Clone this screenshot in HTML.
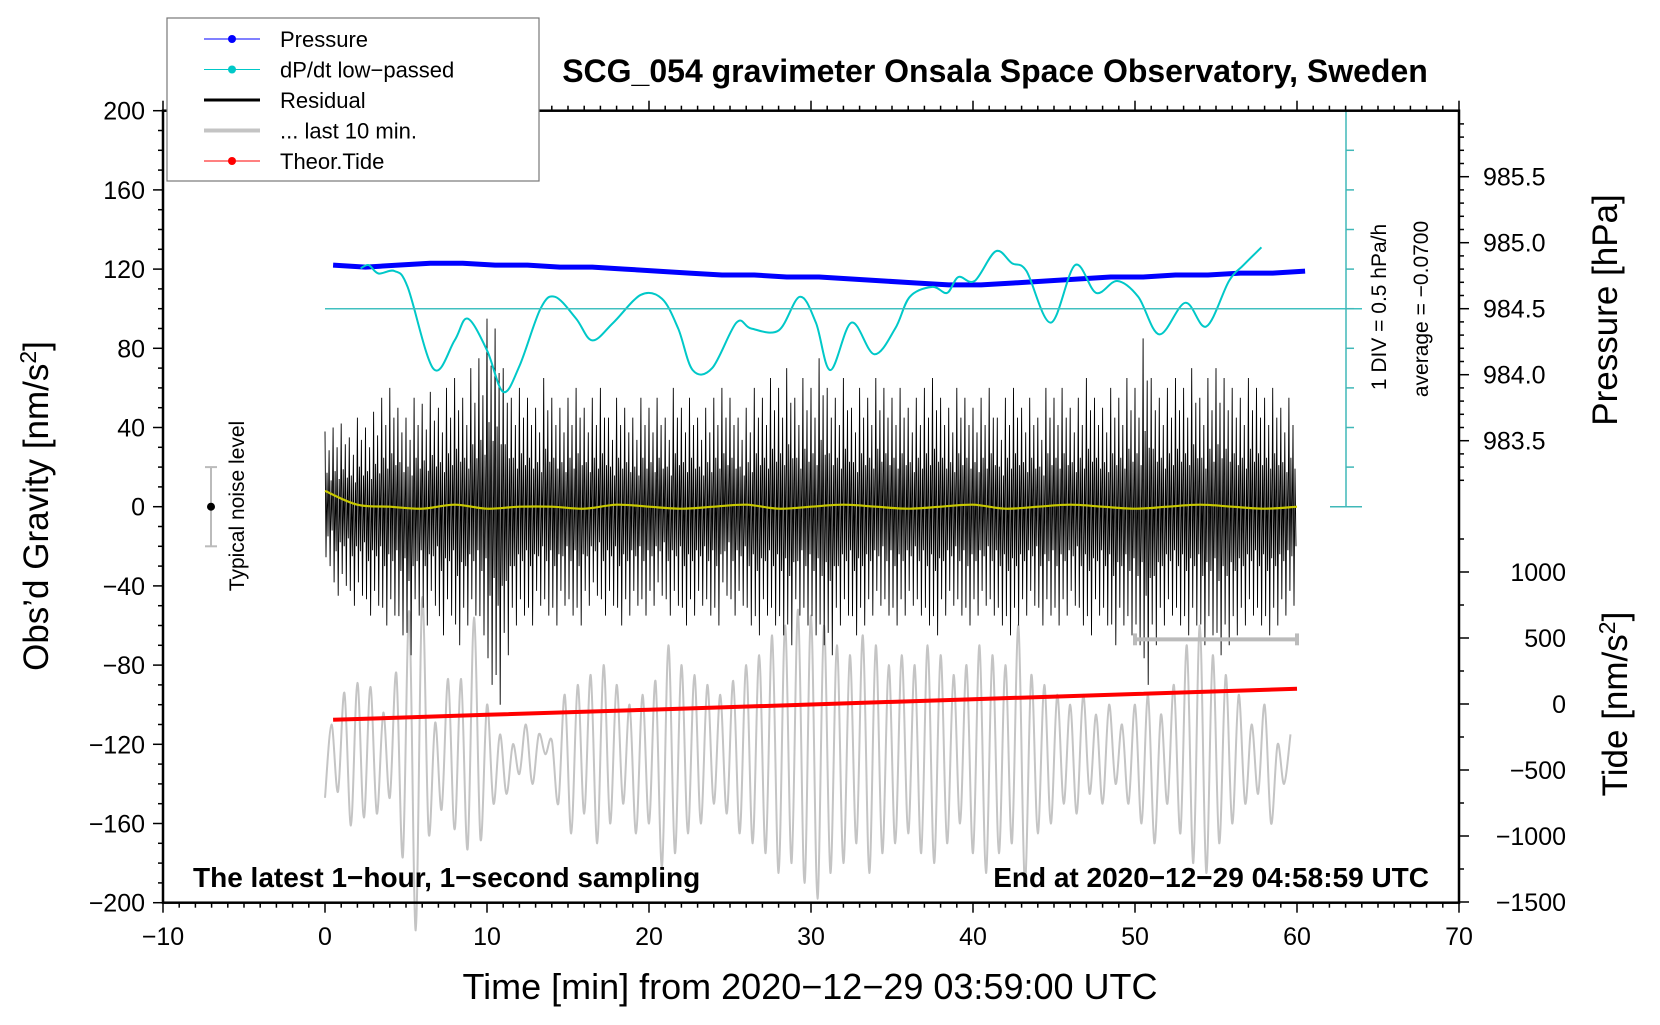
<!DOCTYPE html>
<html><head><meta charset="utf-8"><style>
body{margin:0;background:#fff}
svg text{font-family:"Liberation Sans",Arial,sans-serif}
</style></head><body>
<svg id="c" width="1660" height="1020" viewBox="0 0 1660 1020" xmlns="http://www.w3.org/2000/svg">
<rect width="1660" height="1020" fill="#fff"/>
<g id="plot"></g>
</svg>
<script>
const xTicks=[-10,0,10,20,30,40,50,60,70];
const gTicks=[200,160,120,80,40,0,-40,-80,-120,-160,-200];
const pTicks=[985.5,985.0,984.5,984.0,983.5];
const tTicks=[1000,500,0,-500,-1000,-1500];
const resHi=[38,40,42,35,45,40,48,55,60,50,45,55,52,58,50,60,65,55,70,75,95,90,70,55,60,55,50,65,55,50,55,60,50,55,60,45,55,50,45,55,50,55,45,60,50,55,45,50,55,60,55,45,50,60,55,65,60,70,55,65,60,75,60,55,65,50,60,55,65,60,55,60,50,55,60,65,55,50,60,55,50,55,60,45,55,60,50,55,45,60,55,60,50,55,65,55,50,60,55,65,60,85,65,55,60,65,60,70,55,65,70,65,60,55,65,60,55,60,50,55];
const resLo=[-30,-45,-40,-50,-45,-55,-50,-60,-55,-65,-75,-55,-60,-50,-65,-55,-70,-60,-55,-65,-90,-100,-75,-60,-55,-60,-50,-55,-60,-50,-55,-60,-50,-45,-55,-50,-60,-55,-50,-55,-50,-45,-55,-50,-60,-55,-50,-55,-60,-45,-55,-50,-60,-65,-55,-60,-65,-70,-55,-60,-65,-70,-75,-60,-55,-65,-60,-55,-50,-55,-60,-55,-50,-55,-60,-65,-55,-50,-55,-60,-55,-50,-55,-60,-65,-60,-55,-50,-60,-55,-60,-55,-50,-60,-65,-55,-60,-70,-60,-65,-70,-90,-70,-60,-55,-60,-65,-60,-70,-65,-75,-70,-65,-60,-55,-60,-65,-60,-55,-50];
const grayVals=[-147,-110,-144,-94,-161,-89,-157,-91,-155,-104,-147,-84,-177,-53,-214,-46,-165,-109,-153,-87,-163,-87,-173,-56,-168,
-100,-150,-115,-145,-120,-135,-110,-140,-115,-125,-118,-150,-95,-165,-90,-155,-85,-170,-80,-160,-90,-150,-100,-165,-95,
-160,-88,-182,-70,-175,-80,-165,-85,-160,-90,-150,-95,-155,-88,-165,-80,-170,-75,-175,-65,-185,-60,-180,-52,-190,
-55,-198,-60,-185,-70,-180,-75,-170,-65,-185,-70,-175,-80,-170,-75,-165,-80,-175,-70,-180,-75,-170,-85,-160,-80,
-175,-70,-185,-75,-175,-80,-170,-60,-190,-85,-165,-90,-160,-95,-150,-100,-155,-95,-145,-105,-150,-100,-140,-110,-150,
-100,-160,-95,-170,-105,-150,-90,-165,-70,-180,-60,-185,-75,-170,-85,-160,-95,-150,-110,-145,-100,-160,-120,-140,-115];
const yellowVals=[8,1,0,-1,1,-1,0,0,-1,1,0,-1,0,1,-1,0,1,0,-1,0,1,-1,0,1,0,-1,0,1,0,-1,0];
const pressVals=[984.83,984.815,984.83,984.845,984.845,984.83,984.83,984.815,984.815,984.80,984.785,984.77,984.755,984.755,984.74,984.74,984.725,984.71,984.695,984.68,984.68,984.695,984.71,984.725,984.74,984.74,984.755,984.755,984.77,984.77,984.785];
const dpTimes=[2.2,2.7,3.3,4.3,5.1,6.7,8,8.8,10,11,12,13.3,14.2,15.5,16.5,17.8,19.5,20.8,21.8,22.7,23.9,25.4,26.3,28,29.3,30.3,31.2,32.5,33.9,35.2,36.1,37.5,38.4,39.1,40.1,41.4,42.4,43.3,44.8,46.3,47.6,48.9,50.2,51.5,53.1,54.4,55.8,56.7,57.8];
const dpVals=[0.44,0.48,0.375,0.405,0.205,-0.83,-0.47,-0.195,-0.595,-1.12,-0.795,-0.07,0.08,-0.195,-0.47,-0.245,0.105,0.055,-0.32,-0.845,-0.82,-0.245,-0.32,-0.345,0.08,-0.245,-0.845,-0.245,-0.645,-0.32,0.08,0.205,0.13,0.33,0.28,0.655,0.505,0.405,-0.245,0.48,0.13,0.28,0.08,-0.395,0.005,-0.295,0.28,0.48,0.705];
const dpAvg=-0.07;
const tideTimes=[0.5,10,20,30,40,50,60];
const tideVals=[-120,-82,-43,-4,36,76,115];

const NS="http://www.w3.org/2000/svg";
const G=document.getElementById('plot');
const L=163,R=1459,T=110.7,B=902.7;
const X=t=>L+(t+10)*(R-L)/80;
const GY=g=>506.7-1.98*g;
const PY=p=>308.7-(p-984.5)*132;
const TY=v=>704-v*0.132;
const DY=v=>308.7-(v-dpAvg)/0.5*39.6;
function el(tag,attrs,parent){const e=document.createElementNS(NS,tag);for(const k in attrs)e.setAttribute(k,attrs[k]);(parent||G).appendChild(e);return e;}
function txt(s,attrs){const e=el('text',attrs);e.textContent=s;return e;}
function smooth(pts){let d='M'+pts[0][0].toFixed(1)+','+pts[0][1].toFixed(1);for(let i=0;i<pts.length-1;i++){const p0=pts[i-1]||pts[i],p1=pts[i],p2=pts[i+1],p3=pts[i+2]||p2;const c1x=p1[0]+(p2[0]-p0[0])/6,c1y=p1[1]+(p2[1]-p0[1])/6,c2x=p2[0]-(p3[0]-p1[0])/6,c2y=p2[1]-(p3[1]-p1[1])/6;d+=`C${c1x.toFixed(1)},${c1y.toFixed(1)} ${c2x.toFixed(1)},${c2y.toFixed(1)} ${p2[0].toFixed(1)},${p2[1].toFixed(1)}`;}return d;}

// gray last 10 min
let gp=grayVals.map((v,i)=>[X(i*0.4),GY(v)]);
let e=el('path',{d:smooth(gp),fill:'none',stroke:'#c4c4c4','stroke-width':2});



// residual
let d='';const bw=0.5;
const fh=[1,0.45,0.75,0.35],fl=[0.85,0.5,1,0.4];
resHi.forEach((h,i)=>{const lo=resLo[i];const t0=i*bw;for(let k=0;k<4;k++){const x1=X(t0+k*bw/4),x2=X(t0+(k+0.5)*bw/4);d+=(d?'L':'M')+x1.toFixed(1)+','+GY(h*fh[k]).toFixed(1)+'L'+x2.toFixed(1)+','+GY(lo*fl[k]).toFixed(1);}});
e=el('path',{d:d,fill:'none',stroke:'#000','stroke-width':0.9});



// yellow
e=el('path',{d:smooth(yellowVals.map((v,i)=>[X(i*2),GY(v)])),fill:'none',stroke:'#c8c800','stroke-width':2.2});



// tide
e=el('path',{d:'M'+tideTimes.map((t,i)=>X(t).toFixed(1)+','+TY(tideVals[i]).toFixed(1)).join('L'),fill:'none',stroke:'#ff0000','stroke-width':4});



// pressure
e=el('path',{d:'M'+pressVals.map((p,i)=>X(0.5+2*i).toFixed(1)+','+PY(p).toFixed(1)).join('L'),fill:'none',stroke:'#0000ff','stroke-width':5,'stroke-linejoin':'round'});



// dP/dt
e=el('path',{d:smooth(dpTimes.map((t,i)=>[X(t),DY(dpVals[i])])),fill:'none',stroke:'#00c8c8','stroke-width':2});


e=el('line',{x1:X(0),x2:1362,y1:DY(dpAvg),y2:DY(dpAvg),stroke:'#40c0c0','stroke-width':1.5});


e=el('g',{stroke:'#40b8b8','stroke-width':1.5});


el('line',{x1:1346,x2:1346,y1:T,y2:506.7},e);
el('line',{x1:1330,x2:1362,y1:T,y2:T},e);
el('line',{x1:1330,x2:1362,y1:506.7,y2:506.7},e);
for(let k=1;k<10;k++){el('line',{x1:1346,x2:1354,y1:T+k*39.6,y2:T+k*39.6},e);}
e=txt('1 DIV = 0.5 hPa/h',{x:0,y:0,'font-size':21,'text-anchor':'middle',transform:'translate(1386,307) rotate(-90)'});


e=txt('average = \u22120.0700',{x:0,y:0,'font-size':21,'text-anchor':'middle',transform:'translate(1428,309) rotate(-90)'});



// last 10 min bar
e=el('g',{stroke:'#bbbbbb','stroke-width':4});


el('line',{x1:X(50),x2:X(60),y1:GY(-67),y2:GY(-67)},e);
el('line',{x1:X(50),x2:X(50),y1:GY(-64),y2:GY(-70)},e);
el('line',{x1:X(60),x2:X(60),y1:GY(-64),y2:GY(-70)},e);

// noise level
e=el('g',{stroke:'#bbbbbb','stroke-width':2});


el('line',{x1:211,x2:211,y1:GY(20),y2:GY(-20)},e);
el('line',{x1:205,x2:217,y1:GY(20),y2:GY(20)},e);
el('line',{x1:205,x2:217,y1:GY(-20),y2:GY(-20)},e);
el('circle',{cx:211,cy:GY(0),r:4,fill:'#000',stroke:'none'});
e=txt('Typical noise level',{x:0,y:0,'font-size':21,'text-anchor':'middle',transform:'translate(244,506) rotate(-90)'});



// frame
e=el('rect',{x:L,y:T,width:R-L,height:B-T,fill:'none',stroke:'#000','stroke-width':2.5});



// x axis
const ax=el('g',{stroke:'#000','stroke-width':1.5});


for(let t=-10;t<=70;t++){const len=(t%10===0)?10:5;el('line',{x1:X(t),x2:X(t),y1:B,y2:B+len},ax);el('line',{x1:X(t),x2:X(t),y1:T,y2:T-len},ax);}
xTicks.forEach(t=>{const s=txt(String(t).replace('-','\u2212'),{x:X(t),y:945,'font-size':25,'text-anchor':'middle'});});
e=txt('Time [min] from 2020\u221212\u221229 03:59:00 UTC',{x:810,y:999,'font-size':36,'text-anchor':'middle'});



// left axis
const ay=el('g',{stroke:'#000','stroke-width':1.5});


for(let g=-200;g<=200;g+=10){const len=(g%40===0)?10:5;el('line',{x1:L-len,x2:L,y1:GY(g),y2:GY(g)},ay);}
gTicks.forEach(g=>{const s=txt(String(g).replace('-','\u2212'),{x:L-18,y:GY(g)+9,'font-size':25,'text-anchor':'end'});});
e=el('text',{x:0,y:0,'font-size':35,'text-anchor':'middle',transform:'translate(48,506) rotate(-90)'});
e.innerHTML='Obs\u2019d Gravity [nm/s<tspan dy="-12" font-size="23">2</tspan><tspan dy="12">]</tspan>';



// right axis pressure
const ap=el('g',{stroke:'#000','stroke-width':1.5});


for(let k=0;k<=30;k++){const p=983.2+k*0.1;const y=PY(p);if(y<T||y>506.7)continue;const major=Math.abs((p*2)-Math.round(p*2))<0.01;el('line',{x1:R,x2:R+(major?10:5),y1:y,y2:y},ap);}
pTicks.forEach(p=>{const s=txt(p.toFixed(1),{x:1483,y:PY(p)+9,'font-size':25});});
e=txt('Pressure [hPa]',{x:0,y:0,'font-size':35,'text-anchor':'middle',transform:'translate(1617,310) rotate(-90)'});



// right axis tide
const at=el('g',{stroke:'#000','stroke-width':1.5});


for(let v=-1500;v<=1250;v+=250){const y=TY(v);if(y<520)continue;el('line',{x1:R,x2:R+(v%500===0?10:5),y1:y,y2:y},at);}
tTicks.forEach(v=>{const s=txt(String(v).replace('-','\u2212'),{x:1566,y:TY(v)+9,'font-size':25,'text-anchor':'end'});});
e=el('text',{x:0,y:0,'font-size':35,'text-anchor':'middle',transform:'translate(1627,704) rotate(-90)'});
e.innerHTML='Tide [nm/s<tspan dy="-12" font-size="23">2</tspan><tspan dy="12">]</tspan>';



// titles
e=txt('SCG_054 gravimeter Onsala Space Observatory, Sweden',{x:995,y:82,'font-size':32,'font-weight':'bold','text-anchor':'middle'});


e=txt('The latest 1\u2212hour, 1\u2212second sampling',{x:193,y:887,'font-size':28,'font-weight':'bold'});


e=txt('End at 2020\u221212\u221229 04:58:59 UTC',{x:1429,y:887,'font-size':28,'font-weight':'bold','text-anchor':'end'});



// legend
const lg=el('g',{});


el('rect',{x:167,y:18,width:372,height:163,fill:'#fff',stroke:'#777','stroke-width':1.2},lg);
const items=[['Pressure','#0000ff',1,true],['dP/dt low\u2212passed','#00c8c8',1,true],['Residual','#000',3,false],['... last 10 min.','#c4c4c4',4,false],['Theor.Tide','#ff0000',1,true]];
items.forEach((it,i)=>{const y=39+i*30.5;const g=el('g',{},lg);el('line',{x1:204,x2:260,y1:y,y2:y,stroke:it[1],'stroke-width':it[2]},g);if(it[3])el('circle',{cx:232,cy:y,r:4,fill:it[1]},g);const t=document.createElementNS(NS,'text');t.setAttribute('x',280);t.setAttribute('y',y+8);t.setAttribute('font-size',22);t.textContent=it[0];g.appendChild(t);});
</script>
</body></html>
